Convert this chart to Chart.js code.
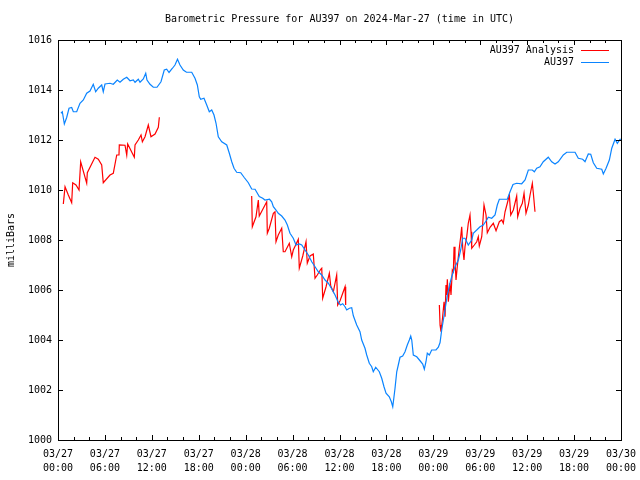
<!DOCTYPE html>
<html><head><meta charset="utf-8">
<script src="https://cdn.jsdelivr.net/npm/chart.js@4.4.1/dist/chart.umd.min.js"></script>
<style>html,body{margin:0;padding:0;background:#fff;}canvas{display:block;}</style>
</head><body>
<canvas id="c" width="640" height="480"></canvas>
<script>
const titleText = 'Barometric Pressure for AU397 on 2024-Mar-27 (time in UTC)';
const yAxisLabel = 'milliBars';
const seriesNames = ['AU397 Analysis', 'AU397'];
const xTickDates = ['03/27','03/27','03/27','03/27','03/28','03/28','03/28','03/28','03/29','03/29','03/29','03/29','03/30'];
const xTickTimes = ['00:00','06:00','12:00','18:00','00:00','06:00','12:00','18:00','00:00','06:00','12:00','18:00','00:00'];

// AU397 observed (hours since 03/27 00:00 UTC)
const blueHours = [0.38,0.55,0.81,1.11,1.41,1.75,1.96,2.39,2.81,3.24,3.67,4.09,4.51,4.82,5.15,5.59,5.79,6.01,6.65,7.07,7.58,7.93,8.35,8.79,9.21,9.63,9.85,10.27,10.49,10.91,11.22,11.38,11.77,12.19,12.66,13.17,13.59,13.90,14.20,14.64,14.96,15.28,15.60,16.02,16.43,17.10,17.52,17.82,18.07,18.25,18.67,19.02,19.35,19.66,19.95,20.21,20.50,20.94,21.58,21.91,22.22,22.51,22.85,23.37,23.79,24.34,24.77,25.20,25.74,26.18,26.47,27.05,27.33,27.54,27.88,28.17,28.61,29.03,29.33,29.67,30.09,30.44,30.86,31.17,31.59,32.01,32.45,32.87,33.29,33.73,34.15,34.57,35.00,35.43,35.85,36.13,36.41,36.71,36.92,37.26,37.56,37.77,38.20,38.62,38.84,39.26,39.48,39.81,40.12,40.32,40.63,41.09,41.40,41.69,41.95,42.37,42.63,42.81,42.97,43.10,43.32,43.52,43.74,44.08,44.38,44.67,44.93,45.11,45.24,45.44,45.88,46.30,46.64,46.85,47.06,47.23,47.49,47.79,48.34,48.64,48.86,49.07,49.28,49.49,49.79,50.13,50.35,50.77,51.20,51.50,51.76,52.05,52.27,52.47,52.91,53.11,53.55,53.97,54.39,54.83,55.03,55.47,55.89,56.18,56.44,57.46,57.81,58.19,58.66,59.30,59.73,60.15,60.66,60.92,61.22,61.64,62.06,62.70,63.14,63.56,63.98,64.62,65.06,66.12,66.54,67.10,67.40,67.82,68.13,68.46,68.90,69.54,69.74,70.09,70.51,70.82,71.24,71.53,71.88,72.0];
const blueValues = [1013.07,1013.13,1012.64,1012.9,1013.27,1013.3,1013.13,1013.13,1013.47,1013.6,1013.87,1013.96,1014.23,1013.93,1014.07,1014.2,1013.93,1014.24,1014.27,1014.23,1014.4,1014.31,1014.43,1014.51,1014.37,1014.4,1014.31,1014.43,1014.31,1014.44,1014.67,1014.4,1014.23,1014.11,1014.11,1014.33,1014.8,1014.83,1014.7,1014.87,1015.0,1015.23,1015.0,1014.8,1014.71,1014.71,1014.47,1014.2,1013.73,1013.63,1013.67,1013.4,1013.13,1013.2,1013.0,1012.67,1012.13,1011.93,1011.8,1011.47,1011.13,1010.87,1010.71,1010.69,1010.51,1010.29,1010.04,1010.03,1009.74,1009.67,1009.6,1009.63,1009.53,1009.33,1009.2,1009.07,1008.96,1008.8,1008.6,1008.27,1008.07,1007.8,1007.84,1007.8,1007.6,1007.4,1007.13,1006.93,1006.73,1006.6,1006.4,1006.27,1006.05,1005.8,1005.5,1005.4,1005.45,1005.33,1005.2,1005.27,1005.29,1004.97,1004.6,1004.33,1004.0,1003.67,1003.4,1003.07,1002.93,1002.73,1002.91,1002.73,1002.47,1002.13,1001.87,1001.73,1001.53,1001.33,1001.73,1002.07,1002.73,1003.0,1003.31,1003.36,1003.53,1003.8,1004.0,1004.16,1004.0,1003.4,1003.33,1003.17,1003.04,1002.83,1003.13,1003.47,1003.4,1003.6,1003.6,1003.71,1003.9,1004.4,1004.8,1005.2,1005.8,1006.27,1006.53,1006.93,1007.2,1007.6,1008.07,1008.07,1007.93,1007.8,1008.0,1008.27,1008.4,1008.53,1008.6,1008.8,1008.91,1008.87,1009.0,1009.4,1009.63,1009.63,1009.93,1010.22,1010.27,1010.25,1010.4,1010.8,1010.8,1010.73,1010.87,1010.93,1011.13,1011.31,1011.13,1011.04,1011.13,1011.4,1011.51,1011.51,1011.27,1011.23,1011.13,1011.44,1011.43,1011.09,1010.87,1010.83,1010.64,1010.87,1011.2,1011.67,1012.03,1011.87,1012.03,1012.03];

// AU397 Analysis (null = no analysis)
const redHours = [0.68,0.90,1.32,1.75,1.88,2.30,2.69,2.90,3.67,3.75,4.73,5.15,5.59,5.79,6.65,7.07,7.51,7.80,7.84,8.57,8.79,8.91,9.76,9.85,10.27,10.62,10.79,11.13,11.55,11.89,12.41,12.83,12.96,
  18.0,
  24.77,24.85,25.32,25.62,25.74,26.69,26.77,27.02,27.54,27.75,27.88,28.17,28.61,28.81,29.03,29.58,29.89,30.09,30.44,30.73,30.86,31.30,31.72,31.88,32.23,32.65,32.87,33.16,33.60,33.73,33.85,34.28,34.70,34.88,35.21,35.64,35.77,36.07,36.71,36.79,
  42.0,
  48.77,48.86,48.98,49.15,49.37,49.50,49.62,49.71,49.79,49.92,50.13,50.26,50.43,50.56,50.65,50.77,50.90,51.07,51.32,51.50,51.63,51.76,51.92,52.05,52.27,52.47,52.69,52.82,52.91,53.24,53.55,53.75,53.88,54.19,54.32,54.48,54.74,54.90,55.25,55.67,56.02,56.44,56.75,56.95,57.17,57.46,57.72,57.90,58.23,58.66,58.79,59.09,59.38,59.60,59.85,60.15,60.37,60.66,60.79,61.00];
const redValues = [1009.44,1010.13,1009.8,1009.49,1010.29,1010.2,1010.0,1011.13,1010.27,1010.69,1011.31,1011.23,1011.0,1010.29,1010.6,1010.67,1011.4,1011.4,1011.8,1011.79,1011.4,1011.84,1011.31,1011.8,1012.0,1012.2,1011.93,1012.13,1012.6,1012.13,1012.24,1012.51,1012.91,
  null,
  1009.76,1008.53,1008.93,1009.6,1008.96,1009.53,1008.27,1008.47,1009.07,1009.13,1007.93,1008.2,1008.47,1007.53,1007.53,1007.87,1007.33,1007.6,1007.83,1008.03,1006.87,1007.36,1007.93,1007.07,1007.36,1007.44,1006.47,1006.6,1006.83,1006.87,1005.67,1006.13,1006.67,1006.16,1005.93,1006.6,1005.4,1005.57,1006.13,1005.4,
  null,
  1005.4,1004.6,1004.33,1004.8,1005.53,1004.93,1006.2,1005.8,1006.43,1005.53,1006.27,1005.8,1006.8,1006.73,1007.73,1007.2,1006.4,1006.96,1007.67,1008.13,1008.53,1007.67,1007.2,1007.73,1008.13,1008.67,1009.0,1008.33,1007.67,1007.8,1007.93,1008.13,1007.76,1008.13,1008.67,1009.4,1009.0,1008.29,1008.51,1008.67,1008.37,1008.73,1008.8,1008.67,1009.13,1009.47,1009.8,1009.0,1009.2,1009.76,1008.93,1009.27,1009.47,1009.87,1009.07,1009.4,1009.8,1010.27,1009.87,1009.13];

const FONT = '"DejaVu Sans Mono", "Liberation Mono", monospace';
const RED = '#ff0000';
const BLUE = '#0a84ff';

const toXY = (hs, vs) => hs.map((h, i) => ({x: h, y: vs[i]}));

const framePlugin = {
  id: 'frame',
  afterDatasetsDraw(chart) {
    const {ctx, chartArea: a, scales: {x, y}} = chart;
    ctx.save();
    // title, centred over the plot area
    ctx.font = '10px ' + FONT;
    ctx.fillStyle = '#000';
    ctx.textAlign = 'center';
    ctx.textBaseline = 'middle';
    ctx.fillText(titleText, (a.left + a.right) / 2, a.top - 21);

    ctx.strokeStyle = '#000';
    ctx.lineWidth = 1;
    ctx.beginPath();
    for (let h = x.min; h <= x.max; h += 2) {
      const px = Math.round(x.getPixelForValue(h)) + 0.5;
      const len = (h % 6 === 0) ? 5 : 3;
      ctx.moveTo(px, a.bottom); ctx.lineTo(px, a.bottom - len);
      ctx.moveTo(px, a.top); ctx.lineTo(px, a.top + len);
    }
    for (let v = y.min; v <= y.max; v += 2) {
      const py = Math.round(y.getPixelForValue(v)) + 0.5;
      ctx.moveTo(a.left, py); ctx.lineTo(a.left + 5, py);
      ctx.moveTo(a.right, py); ctx.lineTo(a.right - 5, py);
    }
    ctx.stroke();
    ctx.strokeRect(Math.round(a.left) + 0.5, Math.round(a.top) + 0.5, Math.round(a.right - a.left), Math.round(a.bottom - a.top));
    // legend (top right, text right-aligned, sample on the right)
    ctx.textAlign = 'right';
    [0, 1].forEach((di, row) => {
      const ds = chart.data.datasets[di];
      const ty = Math.round(a.top + 10 + row * 12) + 0.5;
      ctx.fillStyle = '#000';
      ctx.fillText(ds.label, a.right - 47, ty);
      ctx.beginPath();
      ctx.strokeStyle = ds.borderColor;
      ctx.moveTo(a.right - 40, ty);
      ctx.lineTo(a.right - 12, ty);
      ctx.stroke();
    });
    ctx.restore();
  }
};

new Chart(document.getElementById('c'), {
  type: 'line',
  data: {
    datasets: [
      {label: seriesNames[0], data: toXY(redHours, redValues), borderColor: RED, backgroundColor: RED, order: 1},
      {label: seriesNames[1], data: toXY(blueHours, blueValues), borderColor: BLUE, backgroundColor: BLUE, order: 0}
    ]
  },
  options: {
    responsive: false,
    animation: false,
    devicePixelRatio: 1,
    layout: {padding: {left: 0, right: 19, top: 40, bottom: 0}},
    elements: {point: {radius: 0}, line: {borderWidth: 1.2, tension: 0}},
    spanGaps: false,
    plugins: {
      legend: {display: false},
      tooltip: {enabled: false},
      title: {display: false}
    },
    scales: {
      x: {
        type: 'linear', min: 0, max: 72,
        afterFit(s) { s.height = 40; s.paddingLeft = 0; s.paddingRight = 0; },
        grid: {display: false, drawTicks: false},
        border: {display: false},
        ticks: {
          stepSize: 6, autoSkip: false, maxRotation: 0, minRotation: 0, padding: 7, color: '#000',
          font: {family: FONT, size: 10, lineHeight: 1.4},
          callback(v) { const i = Math.round(v / 6); return [xTickDates[i], xTickTimes[i]]; }
        }
      },
      y: {
        min: 1000, max: 1016,
        afterFit(s) { s.width = 58; s.paddingTop = 0; s.paddingBottom = 0; },
        grid: {display: false, drawTicks: false},
        border: {display: false},
        ticks: {stepSize: 2, padding: 6, color: '#000', font: {family: FONT, size: 10}, callback(v) { return String(v); }},
        title: {display: true, text: yAxisLabel, color: '#000', font: {family: FONT, size: 10, lineHeight: 1.2}, padding: {top: 5, bottom: 0}}
      }
    }
  },
  plugins: [framePlugin]
});
</script>
</body></html>
